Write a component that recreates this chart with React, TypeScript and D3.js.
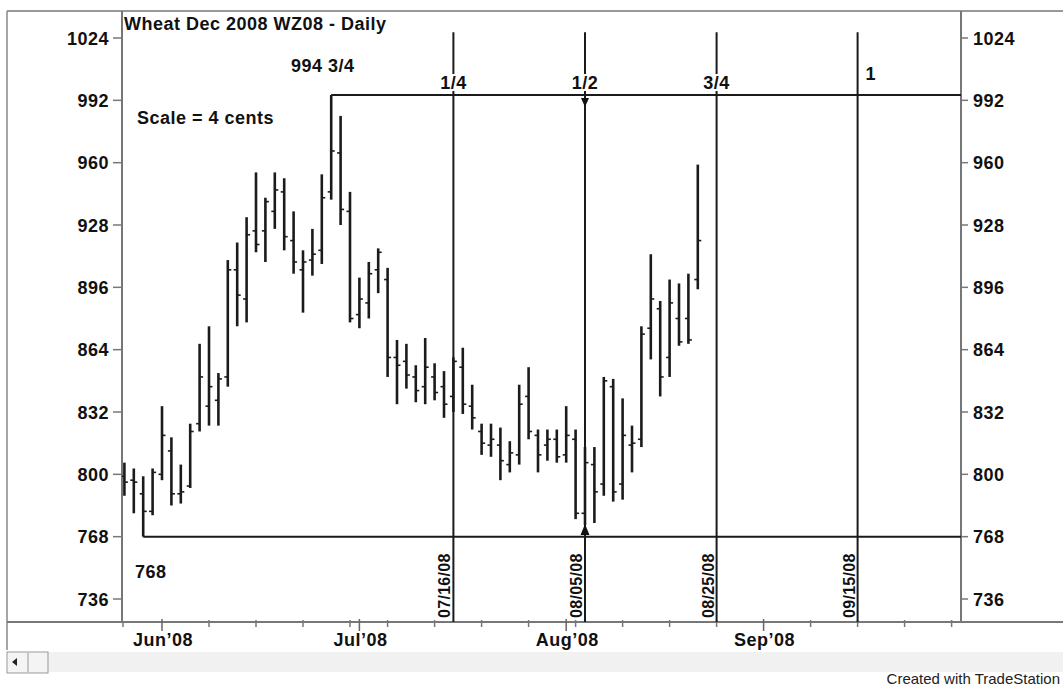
import React from "react";
import * as d3 from "d3";

// ---- data ----
const startIndex = -4; // first bar = May 27 2008, index 0 = Jun 2 2008
const highs = [806,803,799,803,835,819,805,826,867,876,852,910,919,932,955,942,955,952,935,915,926,954,994.75,984,945,901,909,916,906,869,867,856,870,857,853,860,865,846,826,826,824,817,846,855,823,823,823,835,823,814,814,850,849,839,825,876,913,889,900,898,903,959];
const lows = [789,780,768,779,797,784,785,793,822,825,825,845,876,878,914,909,926,915,903,883,902,908,941,928,878,875,880,893,850,836,844,837,836,838,829,832,831,823,810,809,797,801,805,818,801,807,806,806,777,774,775,789,786,787,801,814,859,840,850,866,867,895];
const opens = [799,797,790,781,800,812,790,794,826,835,838,850,905,890,925,925,935,945,920,905,910,915,945,965,935,882,888,905,900,860,858,850,845,850,845,840,855,835,822,815,815,805,810,840,820,815,818,810,818,780,805,795,845,795,815,818,875,885,860,880,880,900];
const closes = [796,796,781,801,820,790,791,822,850,845,849,905,892,923,918,940,946,922,909,909,913,942,966,936,880,890,903,914,860,856,851,843,855,842,836,858,836,829,816,818,807,811,836,822,810,818,809,820,780,806,791,848,791,820,816,872,890,850,888,868,869,920];

const priceTicks = [736, 768, 800, 832, 864, 896, 928, 960, 992, 1024];
const monthTickIdx = [0, 21, 43, 64];
const monthLabels = ["Jun\u201908", "Jul\u201908", "Aug\u201908", "Sep\u201908"];
const weekTickIdx = [5, 10, 15, 20, 24, 29, 34, 39, 44, 49, 54, 59, 69, 74, 79, 84];

const timeLineIdx = [31, 45, 59, 74];
const timeLineFractions = ["1/4", "1/2", "3/4", "1"];
const timeLineDates = ["07/16/08", "08/05/08", "08/25/08", "09/15/08"];

const swingHigh = 994.75;
const swingHighIdx = 18;
const swingLow = 768;
const swingLowIdx = -2;
const lineTopPrice = 1027;

const FONT = "'Liberation Sans', Arial, Helvetica, sans-serif";

export default function App() {
  const W = 1063, H = 687;
  const plotL = 122, plotR = 961, plotT = 11, plotB = 622;
  const x = d3.scaleLinear().domain([0, 74]).range([162, 857.6]);
  const y = d3.scaleLinear().domain([736, 1024]).range([599, 38]);

  const bars = highs.map((h, k) => ({
    i: startIndex + k,
    h,
    l: lows[k],
    o: opens[k],
    c: closes[k],
  }));

  const boldText = {
    fontFamily: FONT,
    fontWeight: 700 as const,
    fontSize: 18,
    letterSpacing: 0.5,
    fill: "#111",
  };

  const lowBar = bars.find((b) => b.i === 45)!;

  return (
    <svg
      width={W}
      height={H}
      style={{ position: "absolute", left: 0, top: 0, background: "#fff" }}
    >
      <defs>
        <clipPath id="plotclip">
          <rect x={plotL} y={plotT} width={plotR - plotL} height={plotB - plotT} />
        </clipPath>
      </defs>
      <rect x={0} y={0} width={W} height={H} fill="#fff" />
      {/* bottom scroll strip */}
      <rect x={48} y={652} width={W - 48} height={20} fill="#f1f1f1" />
      <rect x={7} y={652} width={41} height={21} fill="#f4f4f4" stroke="#999" strokeWidth={1} />
      <line x1={28} x2={28} y1={653} y2={672} stroke="#999" strokeWidth={1} />
      <path d="M12,662 L17,658 L17,666 Z" fill="#222" />

      {/* frame */}
      <line x1={7} x2={W} y1={plotT} y2={plotT} stroke="#777" strokeWidth={1.5} />
      <line x1={7} x2={7} y1={plotT} y2={650} stroke="#888" strokeWidth={1.5} />
      <line x1={plotL} x2={plotL} y1={plotT} y2={plotB} stroke="#777" strokeWidth={2} />
      <line x1={plotR} x2={plotR} y1={plotT} y2={plotB} stroke="#777" strokeWidth={2} />
      <line x1={7} x2={W} y1={plotB} y2={plotB} stroke="#777" strokeWidth={2} />

      {/* price axes */}
      {priceTicks.map((p) => (
        <g key={p}>
          <line x1={113} x2={plotL} y1={y(p)} y2={y(p)} stroke="#777" strokeWidth={1.5} />
          <text x={109} y={y(p) + 6.5} textAnchor="end" {...boldText}>
            {p}
          </text>
          <line x1={plotR} x2={plotR + 7} y1={y(p)} y2={y(p)} stroke="#777" strokeWidth={1.5} />
          <text x={973} y={y(p) + 6.5} textAnchor="start" {...boldText}>
            {p}
          </text>
        </g>
      ))}

      {/* time axis */}
      <line x1={plotL + 1} x2={plotL + 1} y1={plotB} y2={plotB + 5} stroke="#777" strokeWidth={1.5} />
      {weekTickIdx.map((i) => (
        <line key={"w" + i} x1={x(i)} x2={x(i)} y1={plotB - 2} y2={plotB + 5} stroke="#777" strokeWidth={1.5} />
      ))}
      {monthTickIdx.map((i, k) => (
        <g key={"m" + i}>
          <line x1={x(i)} x2={x(i)} y1={plotB - 3} y2={plotB + 9} stroke="#666" strokeWidth={1.5} />
          <text x={x(i) + 1} y={646} textAnchor="middle" {...boldText}>
            {monthLabels[k]}
          </text>
        </g>
      ))}

      {/* OHLC bars */}
      <g clipPath="url(#plotclip)">
        {bars.map((b) => (
          <g key={b.i} stroke="#1b1b1b">
            <line x1={x(b.i)} x2={x(b.i)} y1={y(b.h)} y2={y(b.l)} strokeWidth={2.6} />
            <line x1={x(b.i) - 3.5} x2={x(b.i)} y1={y(b.o)} y2={y(b.o)} strokeWidth={1.6} />
            <line x1={x(b.i)} x2={x(b.i) + 3.5} y1={y(b.c)} y2={y(b.c)} strokeWidth={1.6} />
          </g>
        ))}
      </g>

      {/* swing lines */}
      <g stroke="#1a1a1a" strokeWidth={2}>
        <line x1={x(swingHighIdx)} x2={plotR} y1={y(swingHigh)} y2={y(swingHigh)} />
        <line x1={x(swingLowIdx)} x2={plotR} y1={y(swingLow)} y2={y(swingLow)} />
        {timeLineIdx.map((i) => (
          <line key={"t" + i} x1={x(i)} x2={x(i)} y1={y(lineTopPrice)} y2={plotB} />
        ))}
      </g>

      {/* arrows on the 1/2 line */}
      <path
        d={`M${x(45) - 4},${y(swingHigh) + 3} L${x(45) + 4},${y(swingHigh) + 3} L${x(45)},${y(swingHigh) + 12} Z`}
        fill="#111"
      />
      <path
        d={`M${x(45) - 4.5},${y(lowBar.l) + 10} L${x(45) + 4.5},${y(lowBar.l) + 10} L${x(45)},${y(lowBar.l) - 1} Z`}
        fill="#111"
      />

      {/* fraction labels */}
      {timeLineIdx.map((i, k) => {
        const isLast = k === timeLineIdx.length - 1;
        const tx = isLast ? x(i) + 8 : x(i);
        const ty = isLast ? 80 : 89;
        const w = isLast ? 10 : 28;
        return (
          <g key={"f" + i}>
            <rect x={isLast ? tx - 2 : tx - w / 2} y={ty - 15} width={w} height={17} fill="#fff" />
            <text x={tx} y={ty} textAnchor={isLast ? "start" : "middle"} {...boldText}>
              {timeLineFractions[k]}
            </text>
          </g>
        );
      })}

      {/* date labels */}
      {timeLineIdx.map((i, k) => (
        <text
          key={"d" + i}
          transform={`translate(${x(i) - 3},${618}) rotate(-90)`}
          textAnchor="start"
          fontFamily={FONT}
          fontWeight={700}
          fontSize={16}
          letterSpacing={0.3}
          fill="#111"
        >
          {timeLineDates[k]}
        </text>
      ))}

      {/* annotations */}
      <text x={124} y={30} {...boldText}>
        Wheat Dec 2008 WZ08 - Daily
      </text>
      <text x={291} y={72} {...boldText}>
        994 3/4
      </text>
      <text x={137} y={124} {...boldText}>
        Scale = 4 cents
      </text>
      <text x={135} y={578} {...boldText}>
        768
      </text>

      <text
        x={1060}
        y={684}
        textAnchor="end"
        fontFamily={FONT}
        fontSize={15}
        fill="#222"
      >
        Created with TradeStation
      </text>
    </svg>
  );
}
